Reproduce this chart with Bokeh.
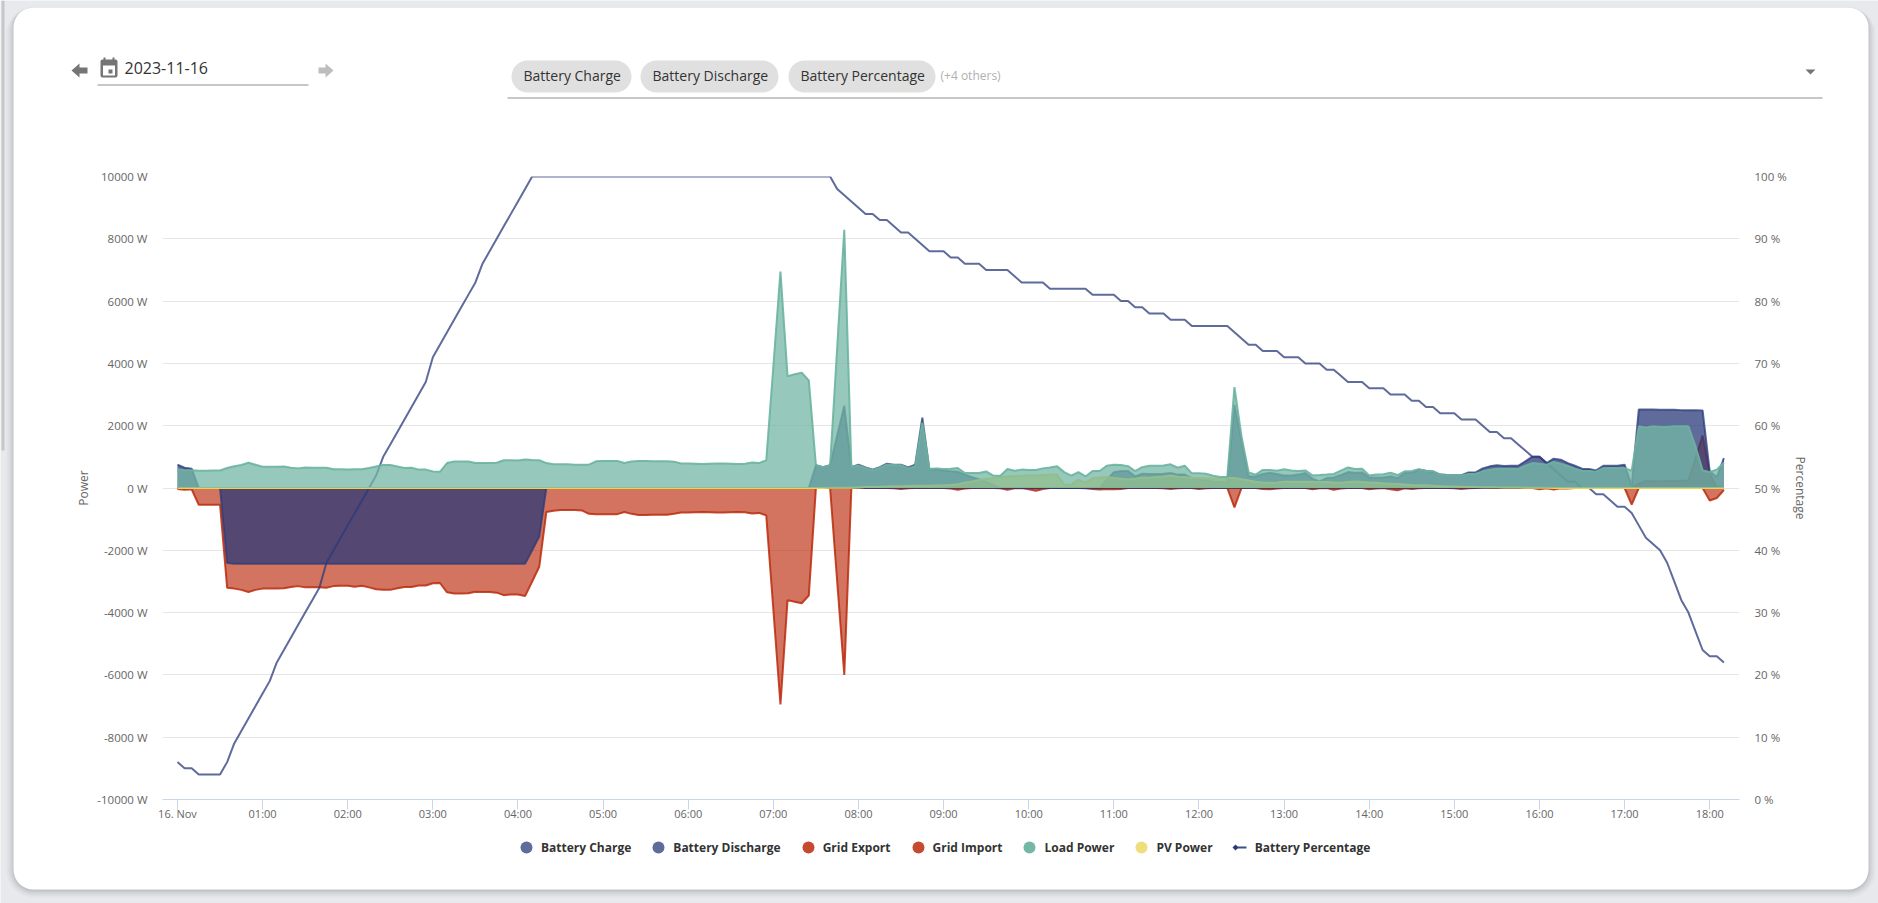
from bokeh.plotting import figure
from bokeh.layouts import column
from bokeh.models import (ColumnDataSource, LinearAxis, Range1d, FixedTicker, Legend, LegendItem)
from bokeh.core.properties import value
from bokeh.embed import file_html
from bokeh.resources import INLINE

# ---- data: one reading every 5 minutes from 00:00 ----
percentage = [
 6,5,5,4,4,4,4,6,9,11, 13,15,17,19,22,24,26,28,30,32, 34,38,40,42,44,46,48,50,52,55,
 57,59,61,63,65,67,71,73,75,77, 79,81,83,86,88,90,92,94,96,98, 100,100,100,100,100,100,100,100,100,100,
 100,100,100,100,100,100,100,100,100,100, 100,100,100,100,100,100,100,100,100,100, 100,100,100,100,100,100,100,100,100,100,
 100,100,100,98,97,96,95,94,94,93, 93,92,91,91,90,89,88,88,88,87, 87,86,86,86,85,85,85,85,84,83,
 83,83,83,82,82,82,82,82,82,81, 81,81,81,80,80,79,79,78,78,78, 77,77,77,76,76,76,76,76,76,75,
 74,73,73,72,72,72,71,71,71,70, 70,70,69,69,68,67,67,67,66,66, 66,65,65,65,64,64,63,63,62,62,
 62,61,61,61,60,59,59,58,58,57, 56,55,55,54,53,52,51,51,50,50, 49,49,48,47,47,46,44,42,41,40,
 38,35,32,30,27,24,23,23,22,
]
load_power = [
 600,570,570,550,555,560,560,640,700,740, 810,745,680,680,680,690,650,630,655,650, 650,650,600,600,590,600,600,640,690,740,
 740,690,640,650,590,590,530,520,800,850, 850,850,800,800,800,810,890,890,880,915, 900,890,800,760,760,760,750,750,750,855,
 865,865,865,800,850,870,870,860,860,860, 840,790,790,780,770,780,790,790,780,770, 780,820,800,890,3900,6950,3590,3650,3700,3450,
 730,670,730,4510,8290,670,720,640,570,650, 750,740,730,630,700,2100,610,630,610,620, 640,480,480,480,530,400,395,610,555,590,
 580,580,630,660,700,510,400,510,370,545, 545,715,750,735,700,545,670,715,715,725, 760,650,715,470,470,460,395,350,350,3240,
 1650,500,430,580,580,555,600,565,545,565, 405,415,430,450,555,660,610,620,405,430, 440,490,415,535,545,600,545,545,430,415,
 405,405,450,460,535,590,620,620,620,610, 715,800,780,750,835,780,705,620,555,545, 525,640,640,640,640,555,1980,1945,1980,1970,
 1970,1980,1980,1980,1340,565,515,590,820,
]
battery_discharge = [
 750,650,620,0,0,0,0,0,0,0, 0,0,0,0,0,0,0,0,0,0, 0,0,0,0,0,0,0,0,0,0,
 0,0,0,0,0,0,0,0,0,0, 0,0,0,0,0,0,0,0,0,0, 0,0,0,0,0,0,0,0,0,0,
 0,0,0,0,0,0,0,0,0,0, 0,0,0,0,0,0,0,0,0,0, 0,0,0,0,0,0,0,0,0,0,
 730,670,730,1690,2640,670,750,660,590,670, 780,750,750,660,750,2260,590,600,560,540, 520,430,350,280,200,100,0,0,0,0,
 0,0,0,0,0,0,0,0,0,0, 0,270,510,545,545,375,460,450,450,460, 480,430,430,320,300,250,200,200,200,2670,
 1530,375,370,450,490,450,400,400,430,480, 300,210,320,340,415,510,490,500,340,340, 340,375,320,480,490,590,555,525,430,415,
 410,410,500,500,630,695,730,705,715,715, 855,1005,1005,800,940,910,800,715,620,610, 565,715,715,715,750,75,2520,2520,2520,2510,
 2510,2510,2500,2500,2500,2490,535,350,960,
]
battery_charge = [
 0,0,0,0,0,0,0,-2410,-2430,-2430, -2430,-2430,-2430,-2430,-2430,-2430,-2430,-2430,-2430,-2430, -2430,-2430,-2430,-2430,-2430,-2430,-2430,-2430,-2430,-2430,
 -2430,-2430,-2430,-2430,-2430,-2430,-2430,-2430,-2430,-2430, -2430,-2430,-2430,-2430,-2430,-2430,-2430,-2430,-2430,-2430, -2000,-1560,0,0,0,0,0,0,0,0,
] + [0] * 159
grid_import = [
 -30,-60,-40,-540,-540,-540,-540,-3200,-3230,-3270, -3340,-3270,-3230,-3230,-3230,-3220,-3180,-3150,-3190,-3190, -3190,-3200,-3150,-3140,-3140,-3170,-3140,-3190,-3250,-3270,
 -3270,-3220,-3180,-3180,-3130,-3130,-3060,-3050,-3350,-3390, -3390,-3380,-3330,-3340,-3340,-3360,-3440,-3420,-3420,-3470, -3000,-2530,-770,-730,-710,-710,-710,-720,-830,-840,
 -840,-840,-840,-770,-830,-870,-870,-860,-860,-860, -830,-790,-790,-780,-770,-780,-790,-790,-780,-770, -780,-820,-800,-880,-3900,-6950,-3600,-3650,-3700,-3450,
 0,0,0,-3000,-6000,0,0,0,0,0, 0,-10,-30,-10,0,0,0,0,0,-20, -60,-20,0,0,0,0,-10,-60,-10,0,
 -40,-90,-30,0,0,0,0,0,-10,-30, -50,-30,-40,-30,0,0,0,0,0,-10, -30,-10,0,0,-30,-10,0,0,0,-620,
 0,0,0,-30,-40,-20,0,0,0,0, -40,-10,0,-60,-20,0,0,0,-40,-20, 0,-40,-70,-10,-30,-10,0,0,0,0,
 -10,-30,-10,0,0,0,0,0,0,0, 0,0,-40,-10,-50,-10,-20,0,0,0, 0,0,0,0,0,-530,0,0,0,0,
 0,0,0,0,0,0,-400,-320,-70,
]
grid_export = [0] * 206 + [130,235,215,215,225,225,235,235,960,1680,450,30,0]
pv_power = [0] * 90 + [
 0,3,5,5,8,10,20,30,35,40, 50,60,60,65,70,70,75,80,85,100, 120,170,210,260,290,320,340,380,380,390,
 400,400,420,430,430,110,100,270,170,310, 340,350,320,300,270,300,340,330,350,370, 400,360,350,320,320,310,300,310,320,320,
 280,240,200,180,170,180,200,200,200,200, 200,195,190,180,170,190,210,190,180,165, 150,140,130,115,100,90,85,70,60,50,
 45,40,35,30,28,25,22,20,18,15, 12,10,8,6,4,3,2,0,0,0, 0,0,0,0,0,0,0,0,0,0,
 0,0,0,0,0,0,0,0,0,
]
minutes_step = 5
x_tick_hours = list(range(19))
x_tick_labels = ["16. Nov"] + ["%02d:00" % h for h in range(1, 19)]
power_ticks = [-10000, -8000, -6000, -4000, -2000, 0, 2000, 4000, 6000, 8000, 10000]
percent_ticks = [0, 10, 20, 30, 40, 50, 60, 70, 80, 90, 100]

series = [percentage, load_power, battery_discharge, battery_charge, grid_import, grid_export, pv_power]
assert all(len(s) == 219 for s in series), [len(s) for s in series]

BAT = "#2a3a7a"; RED = "#bb2a0c"; TEAL = "#73b7a4"; YEL = "#ebd350"; BG = "#e8e9ed"
W, H = 1878, 903
hours = [i * minutes_step / 60 for i in range(219)]
zero = [0] * 219
src = ColumnDataSource(dict(h=hours, zero=zero, pct=percentage, load=load_power, dis=battery_discharge,
                            chg=battery_charge, imp=grid_import, exp=grid_export, pv=pv_power))

# ---- page furniture: a figure whose frame is the whole canvas, with pixel coordinates ----
bg = figure(width=W, height=H, output_backend="svg", toolbar_location=None,
            x_range=Range1d(0, W), y_range=Range1d(H, 0),
            min_border=0, outline_line_color=None, border_fill_color=BG, background_fill_color=BG,
            frame_align=False)
bg.axis.visible = False
bg.grid.visible = False

def box(l, t, r, b, color, radius=0, alpha=1.0):
    bg.quad(left=[l], right=[r], top=[t], bottom=[b], fill_color=color, fill_alpha=alpha, line_color=None,
            border_radius=radius)
def poly(xs, ys, color):
    bg.patch(xs, ys, fill_color=color, line_color=None)
def txt(s, x, y, size, color):
    bg.text(x=[x], y=[y], text=[s], text_font=value("Open Sans"), text_font_size=f"{size}px", text_color=color,
            text_baseline="middle", text_align="left")

for grow, a in [(7, .04), (5, .06), (3, .08), (1, .12)]:
    box(13 - grow, 7, 1868 + grow, 889 + grow + 1, "#5f6168", 20 + grow, a)
box(13, 7, 1868, 889, "#ffffff", 20)
box(1, 0, 4, 450, "#c6c7cb")

# date picker
poly([71, 79, 79, 87, 87, 79, 79], [70, 63, 67, 67, 73, 73, 77], "#757575")
poly([333, 325, 325, 318, 318, 325, 325], [70, 63, 67, 67, 73, 73, 77], "#bdbdbd")
box(100, 59, 117, 77, "#757575", 2)
box(102.5, 65, 114.5, 75, "#ffffff")
box(108, 69, 112, 73, "#757575")
box(103, 57, 105, 60, "#757575")
box(112, 57, 114, 60, "#757575")
txt("2023-11-16", 124, 67, 16, "#333333")
box(97, 84, 308, 85, "#8f8f8f")

# series selector
for l, r, s, tx in [(511, 631, "Battery Charge", 523), (640, 778, "Battery Discharge", 652),
                    (788, 935, "Battery Percentage", 800)]:
    box(l, 60, r, 92, "#e0e0e0", 16)
    txt(s, tx, 75, 14, "#333333")
txt("(+4 others)", 940, 75, 12, "#b0b0b0")
box(507, 97, 1822, 98, "#8f8f8f")
poly([1805, 1815, 1810], [69, 69, 74], "#757575")

# legend: its sample marks sit off the visible range, only the legend draws them
def dot(color, alpha=.75, marker="circle"):
    return bg.scatter([-50], [-50], marker=marker, size=12, fill_color=color, fill_alpha=alpha,
                      line_color=color if marker == "dash" else None, line_alpha=alpha, line_width=2)
items = [LegendItem(label="Battery Charge", renderers=[dot(BAT)]),
         LegendItem(label="Battery Discharge", renderers=[dot(BAT)]),
         LegendItem(label="Grid Export", renderers=[dot(RED, .85)]),
         LegendItem(label="Grid Import", renderers=[dot(RED, .85)]),
         LegendItem(label="Load Power", renderers=[dot(TEAL, 1)]),
         LegendItem(label="PV Power", renderers=[dot(YEL)]),
         LegendItem(label="Battery Percentage", renderers=[dot(BAT, .9, "dash")])]
leg = Legend(items=items, orientation="horizontal", location=(511, H - 862), glyph_width=30, glyph_height=30,
             label_standoff=-3, spacing=12, padding=0, margin=0, border_line_color=None, background_fill_alpha=0,
             label_text_font="Open Sans", label_text_font_style="bold", label_text_font_size="12px",
             label_text_color="#333333", click_policy="none")
bg.add_layout(leg)
poly([1235, 1238, 1235, 1232], [844, 847, 850, 847], BAT)

# ---- the chart, transparent, laid exactly over the furniture ----
p = figure(width=W, height=H, output_backend="svg", toolbar_location=None,
           x_range=Range1d(-0.176, 18.35), y_range=Range1d(-10000, 10000),
           min_border_left=162, min_border_right=139, min_border_top=176, min_border_bottom=104,
           border_fill_color=None, background_fill_color=None, outline_line_color=None, frame_align=False,
           styles={"position": "absolute", "left": "0px", "top": "0px"})
p.extra_y_ranges = {"pct": Range1d(0, 100)}

AX = "#666666"
p.xaxis.ticker = FixedTicker(ticks=x_tick_hours)
p.xaxis.major_label_overrides = dict(zip(x_tick_hours, x_tick_labels))
p.xaxis.axis_line_color = "#ccd6eb"
p.xaxis.major_tick_line_color = "#ccd6eb"
p.xaxis.major_tick_out = 10
p.xaxis.major_tick_in = 0
p.xaxis.minor_tick_line_color = None
p.xaxis.major_label_text_color = AX
p.xaxis.major_label_text_font = "Open Sans"
p.xaxis.major_label_text_font_size = "11px"
p.xaxis.major_label_standoff = -4

p.yaxis.ticker = FixedTicker(ticks=power_ticks)
p.yaxis.major_label_overrides = {v: f"{v} W" for v in power_ticks}
p.yaxis.axis_label = "Power"
yax = p.yaxis[0]
right = LinearAxis(y_range_name="pct", ticker=FixedTicker(ticks=percent_ticks),
                   major_label_overrides={v: f"{v} %" for v in percent_ticks}, axis_label="Percentage")
p.add_layout(right, "right")
for a, st in ((yax, 2), (right, 2)):
    a.axis_line_color = None
    a.major_tick_line_color = None
    a.minor_tick_line_color = None
    a.major_tick_out = 0
    a.major_tick_in = 0
    a.major_label_text_color = AX
    a.major_label_text_font = "Open Sans"
    a.major_label_text_font_size = "11.5px"
    a.major_label_standoff = 15
    a.axis_label_text_color = AX
    a.axis_label_text_font = "Open Sans"
    a.axis_label_text_font_size = "12px"
    a.axis_label_text_font_style = "normal"
    a.axis_label_standoff = st

p.xgrid.visible = False
p.ygrid.ticker = FixedTicker(ticks=power_ticks)
p.ygrid.grid_line_color = "#e6e6e6"

def area(col, color, fill_a, line_color, line_a):
    p.varea(x="h", y1="zero", y2=col, source=src, fill_color=color, fill_alpha=fill_a)
    p.line(x="h", y=col, source=src, line_color=line_color, line_width=2, line_alpha=line_a)

area("exp", RED, .65, RED, .85)
area("imp", RED, .65, RED, .85)
area("chg", BAT, .75, BAT, .75)
area("dis", BAT, .75, BAT, .75)
p.line(x="h", y="pct", source=src, y_range_name="pct", line_color=BAT, line_width=2, line_alpha=.75)
area("pv", YEL, .75, YEL, 1)
area("load", TEAL, .75, "#6bb3a0", .9)

page = column(bg, p, width=W, height=H)
open("out.html", "w").write(file_html(page, INLINE))
